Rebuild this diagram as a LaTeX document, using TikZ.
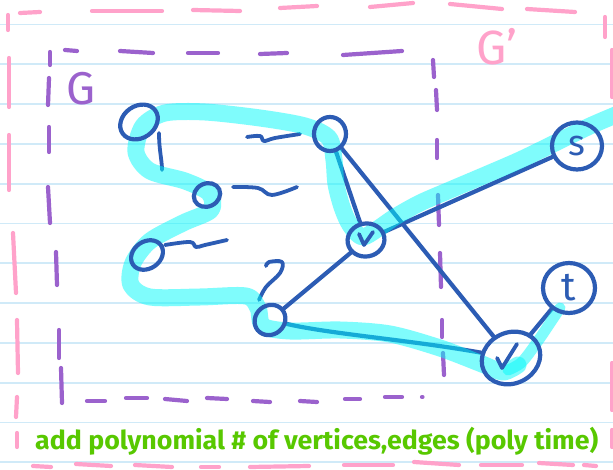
\documentclass[tikz,border=0pt]{standalone}
\usepackage{fontspec}
\setmainfont{Fira Sans}
\usetikzlibrary{shapes.geometric}
\definecolor{ink}{RGB}{44,92,180}
\definecolor{purp}{RGB}{155,98,205}
\definecolor{pinkc}{RGB}{255,162,202}
\definecolor{grn}{RGB}{88,200,0}
\definecolor{rulec}{RGB}{208,234,248}
\definecolor{hl}{RGB}{0,250,250}
\pgfdeclarelayer{bg}
\pgfdeclarelayer{hlayer}
\pgfsetlayers{bg,hlayer,main}
\tikzset{
  vtx/.style={draw=ink, line width=4.2pt, ellipse, inner sep=0pt, text=ink},
  edge/.style={draw=ink, line width=4.2pt, line cap=round, line join=round},
  squig/.style={draw=ink, line width=3.8pt, line cap=round, line join=round},
  tick/.style={draw=ink, line width=3.8pt, line cap=round, line join=round},
  hlband/.style={draw=hl, line width=17pt, line cap=round, line join=round, opacity=0.5},
  pinkdash/.style={draw=pinkc, line width=4.2pt, line cap=round},
  purpdash/.style={draw=purp, line width=4.2pt, line cap=round},
  ruleline/.style={draw=rulec, line width=1.8pt},
}
\begin{document}
\begin{tikzpicture}[x=1pt,y=-1pt]
\useasboundingbox (0,0) rectangle (613,470);
% nodes
\node[vtx, minimum width=40pt, minimum height=32pt, rotate=35] (A) at (139,122) {};
\node[vtx, minimum width=32pt, minimum height=34pt] (B) at (330,134) {};
\node[vtx, minimum width=27pt, minimum height=23pt, rotate=25] (C) at (207,195) {};
\node[vtx, minimum width=34pt, minimum height=27pt, rotate=35] (D) at (147,255) {};
\node[vtx, minimum width=32pt, minimum height=29pt, rotate=40] (E) at (270,320) {};
\node[vtx, minimum width=37pt, minimum height=33pt, rotate=10] (V1) at (366,240) {};
\node[vtx, minimum width=50pt, minimum height=47pt, font=\fontsize{36}{36}\selectfont] (s) at (577,146) {s};
\node[vtx, minimum width=52pt, minimum height=50pt, font=\fontsize{40}{40}\selectfont] (t) at (569,288) {t};
\node[vtx, minimum width=60pt, minimum height=51pt, rotate=25] (V2) at (511,358) {};
% check marks drawn in the visited vertices
\draw[tick] ([shift={(-7,-6)}]V1.center) -- ++(5,11) -- ++(9,-13);
\draw[tick] ([shift={(-14,0)}]V2.center) -- ++(5,10) -- ++(15,-24);
% labels
\node[anchor=base west, inner sep=0pt, text=purp, font=\fontsize{46}{46}\selectfont] (Glab) at (66,105) {G};
\node[anchor=base west, inner sep=0pt, text=pinkc, font=\fontsize{48}{48}\selectfont] (Gplab) at (476,65) {G'};
\node[anchor=base west, inner sep=0pt, text=grn, font=\bfseries\fontsize{26}{26}\selectfont] (note) at (35,449) {\resizebox{563pt}{\height}{add polynomial \# of vertices,edges (poly time)}};
\begin{pgfonlayer}{bg}
\fill[white] (0,0) rectangle (613,470);
\foreach \k in {0,...,11} {
  \pgfmathsetmacro\yy{24.5+39.8*\k}
  \draw[ruleline] (0,\yy) -- (613,\yy);
}
\foreach \a/\b/\c/\d in {20/13/40/12, 92/11/162/11, 193/10/240/11, 280/8/317/6, 370/7/413/3, 450/4/502/9, 527/9/575/12,
  605/17/605/37, 612/50/612/97, 612/363/612/410, 612/430/612/447,
  8/15/8/30, 9/58/9/107, 9/135/9/190, 13/233/16/293, 17/320/18/373, 17/397/16/417, 17/433/17/447,
  33/466/51/467, 76/464/111/466, 135/465/172/467, 201/467/219/467, 250/467/309/466, 344/465/393/465, 414/462/459/465, 481/465/522/465, 539/463/573/465, 584/465/596/466}
  \draw[pinkdash] (\a,\b) -- (\c,\d);
\foreach \a/\b/\c/\d in {50/52/50/65, 65/50/77/51, 120/51/153/53, 188/53/218/53, 260/54/287/53, 343/55/402/51,
  433/60/434/77, 436/90/437/110, 437/140/437/158, 438/195/439/225, 440/253/441/287, 442/320/442/337, 443/353/444/375,
  49/78/48/105, 49/127/49/152, 48/187/50/223, 56/252/57/285, 59/330/59/358, 61/368/62/403,
  87/401/105/401, 126/398/147/398, 165/399/187/401, 207/398/227/399, 253/401/270/402, 300/401/317/402, 345/399/360/399, 385/397/402/397, 422/397/422.5/397}
  \draw[purpdash] (\a,\b) -- (\c,\d);
% edges
\draw[edge] (B) -- (V1);
\draw[edge] (B) -- (V2);
\draw[edge] (V1) -- (s);
\draw[edge] (V1) -- (E);
\draw[edge] (E) .. controls (330,334) and (410,340) .. (V2);
\draw[edge] (V2) -- (t);
% dangling edge stubs
\coordinate (a1) at (159,133); \coordinate (a2) at (162,170);
\draw[squig] (a1) .. controls (159,150) and (162,160) .. (a2);
\coordinate (b1) at (247,137); \coordinate (b2) at (300,134);
\draw[squig] plot[smooth, tension=0.6] coordinates {(b1) (260,136) (264,141) (275,138) (b2)};
\coordinate (c1) at (233,187); \coordinate (c2) at (297,187);
\draw[squig] plot[smooth, tension=0.6] coordinates {(c1) (258,188) (272,195) (c2)};
\coordinate (d1) at (165,245); \coordinate (d2) at (227,240);
\draw[squig] plot[smooth, tension=0.6] coordinates {(d1) (190,242) (196,247) (205,245) (d2)};
\coordinate (e1) at (266,266); \coordinate (e2) at (259,300);
\draw[squig] plot[smooth, tension=0.6] coordinates {(e1) (269,262) (282,262) (280,273) (266,287) (e2)};
\end{pgfonlayer}
\begin{pgfonlayer}{hlayer}
\draw[hlband] plot[smooth, tension=0.5] coordinates {(618,114) (590,126) (555,143) (520,160) (483,176) (450,190) (420,203) (395,217) (376,230) (362,237) (350,225) (342,207) (336,184) (334,160) (329,138) (305,126) (260,118) (205,112) (165,113) (143,126) (136,152) (150,171) (185,181) (209,193) (211,210) (183,223) (150,241) (133,263) (131,285) (150,297) (200,297) (246,296) (258,308) (263,326) (290,331) (340,330) (390,334) (440,348) (482,364) (503,372) (518,365)};
\draw[hlband, line width=11pt] plot[smooth, tension=0.5] coordinates {(508,370) (522,362) (540,338) (560,308)};
\end{pgfonlayer}
\end{tikzpicture}
\end{document}
